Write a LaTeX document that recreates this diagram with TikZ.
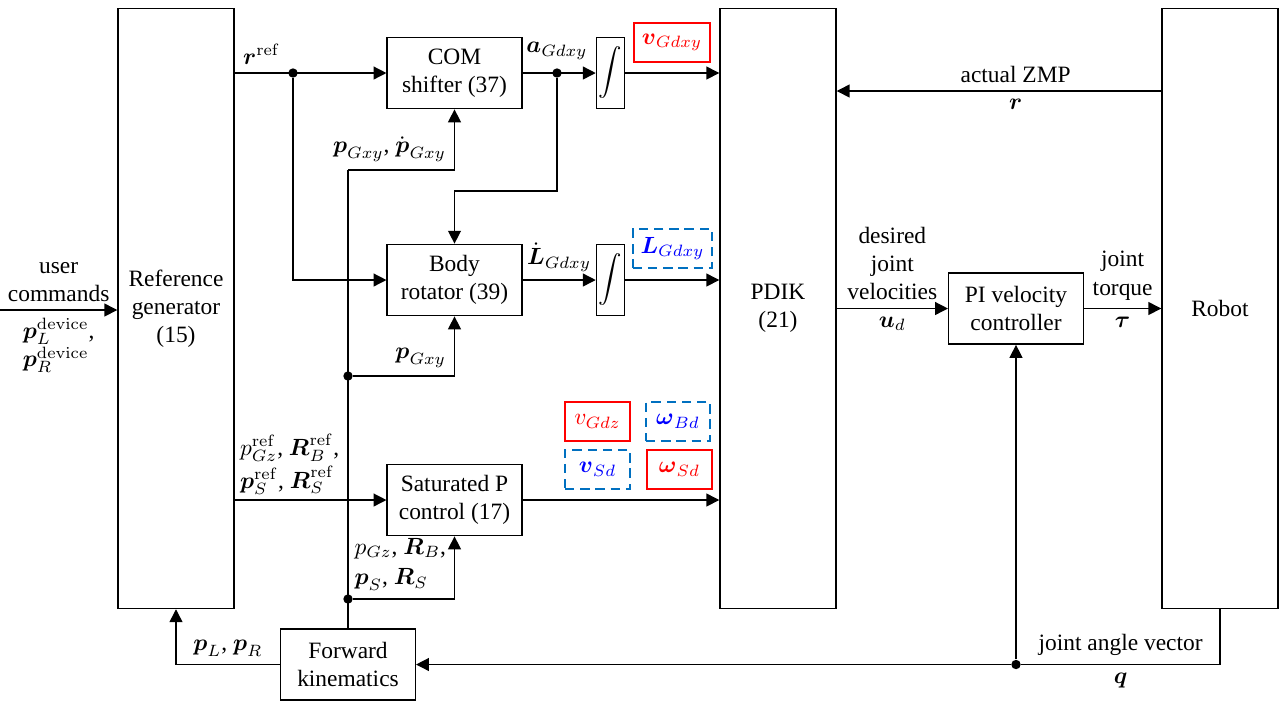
\documentclass[tikz,border=0pt]{standalone}
\usepackage{amsmath}
\usepackage[no-math]{fontspec}
\setmainfont{Liberation Serif}
\usetikzlibrary{arrows.meta, positioning, calc}
\definecolor{dashblue}{RGB}{0,112,192}

\begin{document}
\begin{tikzpicture}[x=0.015cm,y=-0.015cm,
		blk/.style={draw, semithick, align=center, inner sep=1pt},
		tall/.style={blk, minimum width=1.74cm, minimum height=9cm},
		mid/.style={blk, minimum width=2.02cm, minimum height=1.07cm},
		intg/.style={blk, minimum width=0.405cm, minimum height=1.07cm},
		redbox/.style={draw=red, thick, text=red, minimum height=0.585cm},
		bluebox/.style={draw=dashblue, thick, dash pattern=on 4pt off 2.5pt, text=blue, minimum height=0.585cm},
		arr/.style={semithick, -{Triangle[length=5.5pt,width=5.5pt]}},
		ln/.style={semithick},
		dot/.style={circle, fill, inner sep=0pt, minimum size=4pt}]
	\useasboundingbox (0,0) rectangle (1282,700);

	% blocks
	\node[tall] (ref) at (176,308.5) {Reference\\generator\\(15)};
	\node[tall] (pdik) at (778,308.5) {PDIK\\(21)};
	\node[tall] (robot) at (1220,308.5) {Robot};
	\node[mid] (com) at (454.5,73) {COM\\shifter (37)};
	\node[mid] (body) at (454.5,280) {Body\\rotator (39)};
	\node[mid] (satp) at (454.5,500) {Saturated P\\control (17)};
	\node[mid] (fk) at (348,664.5) {Forward\\kinematics};
	\node[mid] (pi) at (1016,308.5) {PI velocity\\controller};
	\node[intg] (int1) at (610.5,73) {$\displaystyle\int$};
	\node[intg] (int2) at (610.5,280) {$\displaystyle\int$};

	% marked outputs
	\node[redbox, minimum width=1.14cm] (vgdxy) at (672,42.5) {$\boldsymbol{v}_{Gdxy}$};
	\node[bluebox, minimum width=1.155cm] (lgdxy) at (672.5,248.5) {$\boldsymbol{L}_{Gdxy}$};
	\node[redbox, minimum width=0.975cm] (vgdz) at (597.5,421.5) {$v_{Gdz}$};
	\node[bluebox, minimum width=0.96cm] (wbd) at (678,421.5) {$\boldsymbol{\omega}_{Bd}$};
	\node[bluebox, minimum width=0.975cm] (vsd) at (597.5,469.5) {$\boldsymbol{v}_{Sd}$};
	\node[redbox, minimum width=0.975cm] (wsd) at (679.5,469.5) {$\boldsymbol{\omega}_{Sd}$};

	% branch points
	\node[dot] (sp1) at (293,73) {};
	\node[dot] (sp2) at (557,73) {};
	\node[dot] (sp3) at (348,376) {};
	\node[dot] (sp4) at (348,599) {};
	\node[dot] (sp5) at (1016,664.5) {};
	\coordinate (usr) at (0,310);
	\coordinate (k1) at (557,191);
	\coordinate (k2) at (348,170);
	\coordinate (zmp) at (1162,91);

	% user input
	\draw[arr] (usr) -- node[midway, above, align=center] (l_usr) {user\\commands}
		node[midway, below, align=left] (l_dev) {$\boldsymbol{p}_L^{\mathrm{device}}$,\\$\boldsymbol{p}_R^{\mathrm{device}}$} (usr -| ref.west);

	% upper paths
	\draw[arr] (ref.east |- sp1) node[above right] (l_rref) {$\boldsymbol{r}^{\mathrm{ref}}$} -- (com.west);
	\draw[arr] (sp1) |- (body.west);
	\draw[arr] (com.east) -- (int1.west);
	\node[above=0pt of sp2] (l_a) {$\boldsymbol{a}_{Gdxy}$};
	\draw[arr] (sp2) -- (k1) -| (body.north);
	\draw[arr] (int1.east) -- (int1.east -| pdik.west);
	\draw[arr] (body.east) -- node[above] (l_ldot) {$\dot{\boldsymbol{L}}_{Gdxy}$} (int2.west);
	\draw[arr] (int2.east) -- (int2.east -| pdik.west);

	% saturated P control
	\draw[arr] (ref.east |- satp.west) node[above right, align=left, inner sep=2pt] (l_pref)
		{$p_{Gz}^{\mathrm{ref}}$, $\boldsymbol{R}_B^{\mathrm{ref}}$,\\[1pt]$\boldsymbol{p}_S^{\mathrm{ref}}$, $\boldsymbol{R}_S^{\mathrm{ref}}$} -- (satp.west);
	\draw[arr] (satp.east) -- (satp.east -| pdik.west);

	% forward kinematics feedback
	\draw[ln] (fk.north) -- (k2);
	\draw[arr] (k2) -| node[pos=0.5, above left] (l_pg) {$\boldsymbol{p}_{Gxy}$, $\dot{\boldsymbol{p}}_{Gxy}$} (com.south);
	\draw[arr] (sp3) -| node[pos=0.5, above left] (l_pg2) {$\boldsymbol{p}_{Gxy}$} (body.south);
	\draw[arr] (sp4) -| node[pos=0.5, above left, align=left] (l_pgz)
		{$p_{Gz}$, $\boldsymbol{R}_B$,\\[1pt]$\boldsymbol{p}_S$, $\boldsymbol{R}_S$} (satp.south);
	\draw[arr] (fk.west) -| node[pos=0.25, above] (l_plr) {$\boldsymbol{p}_L$, $\boldsymbol{p}_R$} (ref.south);

	% robot side
	\draw[ln] (robot.south) |- node[pos=0.75, above] (l_jav) {joint angle vector}
		node[pos=0.75, below] (l_q) {$\boldsymbol{q}$} (sp5);
	\draw[arr] (sp5) -- (fk.east);
	\draw[arr] (sp5) -- (pi.south);
	\draw[arr] (zmp) -- node[pos=0.45, above] (l_zmp) {actual ZMP}
		node[pos=0.45, below] (l_r) {$\boldsymbol{r}$} (zmp -| pdik.east);
	\draw[arr] (pdik.east) -- node[above, align=center] (l_djv) {desired\\joint\\velocities}
		node[below] (l_ud) {$\boldsymbol{u}_d$} (pi.west);
	\draw[arr] (pi.east) -- node[above, align=center] (l_jt) {joint\\torque}
		node[below] (l_tau) {$\boldsymbol{\tau}$} (robot.west);
\end{tikzpicture}
\end{document}
